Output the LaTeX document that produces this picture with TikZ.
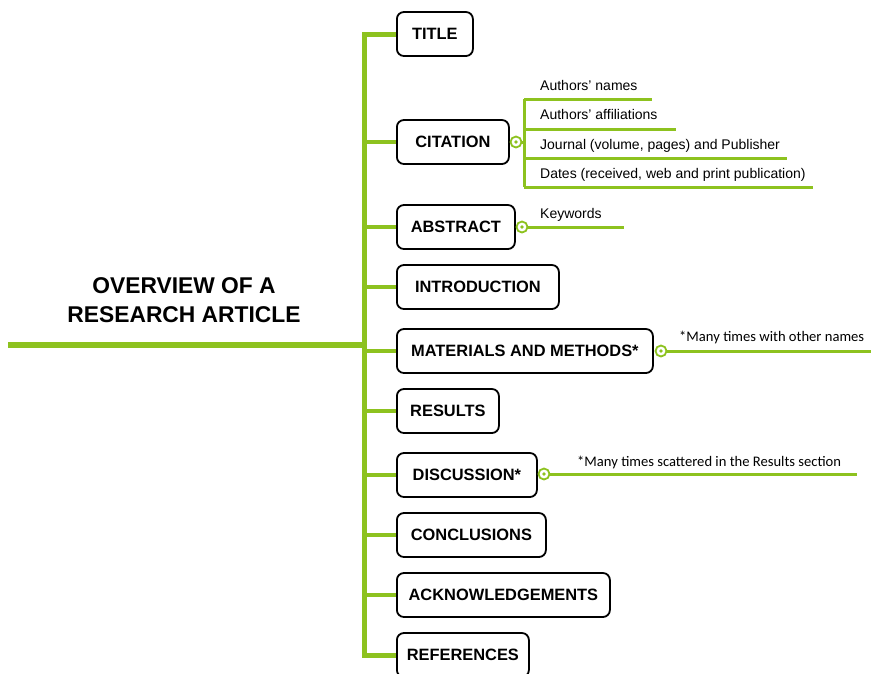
\documentclass[tikz,border=0pt]{standalone}
\usepackage{fontspec}
\setmainfont{Liberation Sans}
\newfontfamily\notefont{Carlito}
\definecolor{leaf}{RGB}{141,194,31}
\begin{document}
\begin{tikzpicture}[x=1pt,y=-1pt,
  section/.style={draw=black, line width=1.8pt, rounded corners=7pt, fill=white,
    minimum height=44pt, anchor=west, inner sep=0pt,
    font=\bfseries\fontsize{16.4}{18}\selectfont},
  trunk/.style={draw=leaf, line width=5pt, line join=miter},
  branch/.style={draw=leaf, line width=4.5pt},
  twig/.style={draw=leaf, line width=3pt},
  knob/.style={circle, draw=leaf, line width=1.8pt, fill=white, minimum size=11pt,
    inner sep=0pt, path picture={\fill[leaf] (path picture bounding box.center) circle (1.8pt);}},
  note/.style={anchor=base west, inner sep=0pt, font=\fontsize{14}{16}\selectfont},
  aside/.style={anchor=base west, inner sep=0pt, font=\notefont\fontsize{14.6}{16}\selectfont}]
\useasboundingbox (0,0) rectangle (871,673);

% spine and root
\coordinate (spine) at (364,0);
\coordinate (root) at (8,345);
\draw[line width=6.5pt, leaf] (root) -- (spine |- root);

% headline
\node[font=\bfseries\fontsize{22.8}{29}\selectfont, align=center, inner sep=0pt]
  (headline) at (184,300) {OVERVIEW OF A\\RESEARCH ARTICLE};

% sections
\node[section, minimum width=76pt]  (title)   at (396,34)  {TITLE};
\node[section, minimum width=112pt] (citation) at (396,142) {CITATION};
\node[section, minimum width=118pt] (abstract) at (396,227) {ABSTRACT};
\node[section, minimum width=162pt] (intro)   at (396,287) {INTRODUCTION};
\node[section, minimum width=256pt] (methods) at (396,351) {MATERIALS AND METHODS*};
\node[section, minimum width=102pt] (results) at (396,411) {RESULTS};
\node[section, minimum width=140pt] (discussion) at (396,475) {DISCUSSION*};
\node[section, minimum width=149pt] (conclusions) at (396,535) {CONCLUSIONS};
\node[section, minimum width=213pt] (acknowledgements) at (396,595) {ACKNOWLEDGEMENTS};
\node[section, minimum width=132pt] (references) at (396,655) {REFERENCES};

% spine with first and last branch
\draw[trunk] (title.west) -- (spine |- title.west) -- (spine |- references.west) -- (references.west);
\foreach \s in {citation,abstract,intro,methods,results,discussion,conclusions,acknowledgements}
  \draw[branch] (spine |- \s.west) -- (\s.west);

% citation details
\node[knob] (citeknob) at (516,142) {};
\coordinate (citefork) at (524,142);
\coordinate (n1) at (652,99);
\coordinate (n2) at (676,129);
\coordinate (n3) at (787,158);
\coordinate (n4) at (813,187);
\draw[twig] (citeknob) -- (citefork);
\draw[twig] (citefork |- n1) -- (citefork |- n4);
\foreach \n in {n1,n2,n3,n4}
  \draw[twig] (citefork |- \n) -- (\n);
\node[note] (t1) at (540,90)  {Authors' names};
\node[note] (t2) at (540,119) {Authors' affiliations};
\node[note] (t3) at (540,149) {Journal (volume, pages) and Publisher};
\node[note] (t4) at (540,178) {Dates (received, web and print publication)};

% abstract details
\node[knob] (absknob) at (522,227) {};
\coordinate (kwend) at (624,227);
\draw[twig] (absknob) -- (kwend);
\node[note] (kw) at (540,218) {Keywords};

% methods note
\node[knob] (methknob) at (661,351) {};
\coordinate (methend) at (871,351);
\draw[twig] (methknob) -- (methend);
\node[aside] (methnote) at (679,341) {*Many times with other names};

% discussion note
\node[knob] (discknob) at (544,474) {};
\coordinate (discend) at (857,474);
\draw[twig] (discknob) -- (discend);
\node[aside] (discnote) at (577,466) {*Many times scattered in the Results section};
\end{tikzpicture}
\end{document}
